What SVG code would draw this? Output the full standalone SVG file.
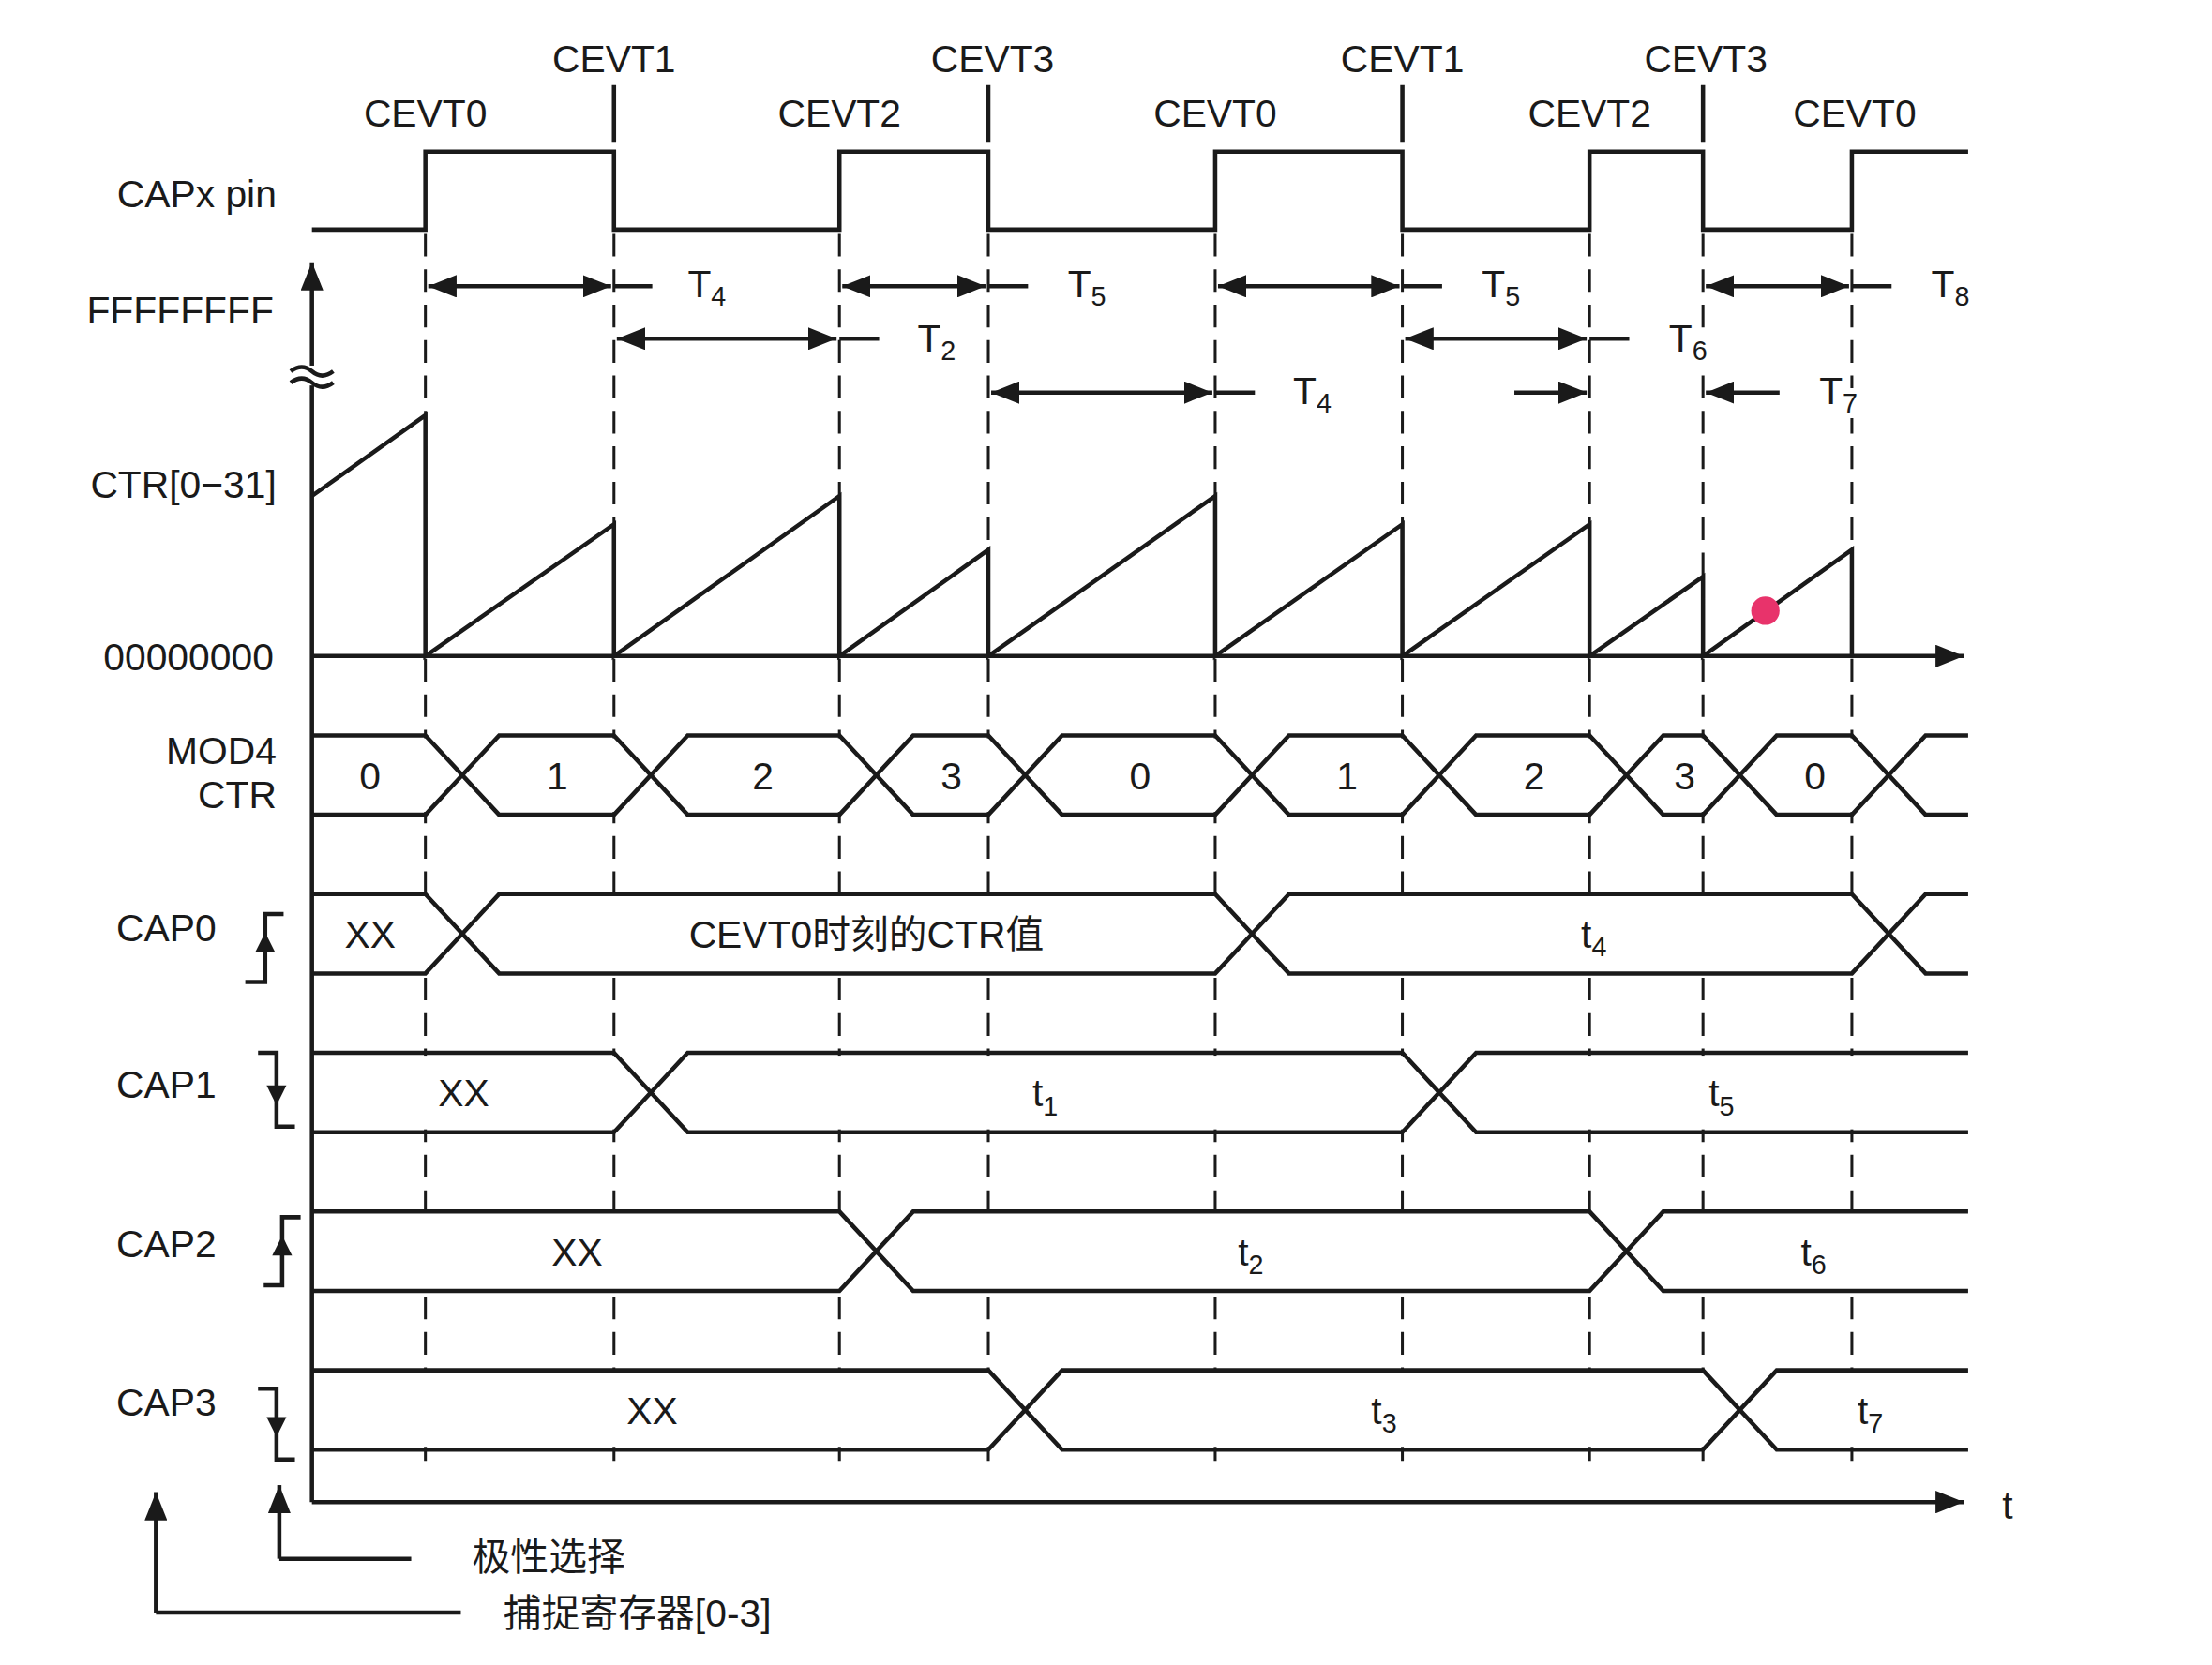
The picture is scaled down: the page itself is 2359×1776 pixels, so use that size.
<svg xmlns="http://www.w3.org/2000/svg" width="2359" height="1776" viewBox="0 0 2359 1776">
<style>
.l{stroke:#1a1a1a;stroke-width:3;fill:none}
.d{stroke:#1a1a1a;stroke-width:2;fill:none;stroke-dasharray:16 9}
.t{font-family:"Liberation Sans","Noto Sans CJK SC",sans-serif;font-size:27px;fill:#1a1a1a}
.w{stroke:#fff;stroke-width:8;paint-order:stroke}
.e{text-anchor:end}.m{text-anchor:middle}
.s{font-size:19px}
</style>
<defs>
<marker id="b" viewBox="0 0 10 10" refX="10" refY="5" markerWidth="20" markerHeight="16" orient="auto-start-reverse" markerUnits="userSpaceOnUse" preserveAspectRatio="none"><path d="M0,0L10,5L0,10z" fill="#1a1a1a"/></marker>
</defs>
<rect width="2359" height="1776" fill="#fff"/>
<g transform="scale(1.5122 1.5115)">
<g id="connectors">
<path class="d" d="M300,165V1040M433,165V1040M592,165V1040M697,165V1040M857,165V1040M989,165V1040M1121,165V1040M1201,165V1040M1306,165V1040"/>
<g fill="#fff"><rect x="222" y="521" width="1166" height="52"/><rect x="222" y="633" width="1166" height="52"/><rect x="222" y="745" width="1166" height="52"/><rect x="222" y="857" width="1166" height="52"/><rect x="222" y="969" width="1166" height="52"/></g>
<path class="l" stroke-width="2" d="M433,60V100M697,60V100M989,60V100M1201,60V100"/>
<path class="l" d="M220,162H300V107H433V162H592V107H697V162H857V107H989V162H1121V107H1201V162H1306V107H1388"/>
<path class="l" d="M220,1060V185" marker-end="url(#b)"/>
<rect x="205" y="258" width="30" height="14" fill="#fff"/>
<path class="l" stroke-width="2" d="M205,262q8,-6 15,0t15,0M205,270q8,-6 15,0t15,0"/>
<path class="l" d="M220,463H1385" marker-end="url(#b)"/>
<path class="l" d="M220,1060H1385" marker-end="url(#b)"/>
<path class="l" d="M220,350L300,293V463L433,370V463L592,350V463L697,388V463L857,350V463L989,370V463L1121,370V463L1201,407V463L1306,388V463"/>
<path class="l" stroke-width="2" d="M302,202H431" marker-start="url(#b)" marker-end="url(#b)"/><path class="l" stroke-width="2" d="M433,202H460"/>
<path class="l" stroke-width="2" d="M594,202H695" marker-start="url(#b)" marker-end="url(#b)"/><path class="l" stroke-width="2" d="M697,202H725"/>
<path class="l" stroke-width="2" d="M859,202H987" marker-start="url(#b)" marker-end="url(#b)"/><path class="l" stroke-width="2" d="M989,202H1017"/>
<path class="l" stroke-width="2" d="M1203,202H1304" marker-start="url(#b)" marker-end="url(#b)"/><path class="l" stroke-width="2" d="M1306,202H1334"/>
<path class="l" stroke-width="2" d="M435,239H590" marker-start="url(#b)" marker-end="url(#b)"/><path class="l" stroke-width="2" d="M592,239H620"/>
<path class="l" stroke-width="2" d="M991,239H1119" marker-start="url(#b)" marker-end="url(#b)"/><path class="l" stroke-width="2" d="M1121,239H1149"/>
<path class="l" stroke-width="2" d="M699,277H855" marker-start="url(#b)" marker-end="url(#b)"/><path class="l" stroke-width="2" d="M857,277H885"/>
<path class="l" stroke-width="2" d="M1068,277H1119" marker-end="url(#b)"/>
<path class="l" stroke-width="2" d="M1255,277H1203" marker-end="url(#b)"/>
<circle cx="1245" cy="431" r="10" fill="#e8336b"/>
<path class="l" d="M220,519H300L352,575H433L485,519H592L644,575H697L749,519H857L909,575H989L1041,519H1121L1173,575H1201L1253,519H1306L1358,575H1388M220,575H300L352,519H433L485,575H592L644,519H697L749,575H857L909,519H989L1041,575H1121L1173,519H1201L1253,575H1306L1358,519H1388"/>
<path class="l" d="M220,631H300L352,687H857L909,631H1306L1358,687H1388M220,687H300L352,631H857L909,687H1306L1358,631H1388"/>
<path class="l" d="M220,743H433L485,799H989L1041,743H1388M220,799H433L485,743H989L1041,799H1388"/>
<path class="l" d="M220,855H592L644,911H1121L1173,855H1388M220,911H592L644,855H1121L1173,911H1388"/>
<path class="l" d="M220,967H697L749,1023H1201L1253,967H1388M220,1023H697L749,967H1201L1253,1023H1388"/>
<path class="l" stroke-width="2" d="M173,693H187V645H200M187,690V668"/><path d="M180,672L187,658L194,672z" fill="#1a1a1a"/>
<path class="l" stroke-width="2" d="M182,743H195V795H208M195,748V770"/><path d="M188,766L195,780L202,766z" fill="#1a1a1a"/>
<path class="l" stroke-width="2" d="M186,907H199V859H212M199,904V882"/><path d="M192,886L199,872L206,886z" fill="#1a1a1a"/>
<path class="l" stroke-width="2" d="M182,980H195V1030H208M195,985V1005"/><path d="M188,1000L195,1014L202,1000z" fill="#1a1a1a"/>
<path class="l" stroke-width="2" d="M197,1100V1048" marker-end="url(#b)"/><path class="l" stroke-width="2" d="M197,1100H290"/>
<path class="l" stroke-width="2" d="M110,1138V1053" marker-end="url(#b)"/><path class="l" stroke-width="2" d="M110,1138H325"/>
</g>
<g id="labels" class="t">
<text x="195" y="146" class="t e">CAPx pin</text>
<text x="193" y="228" class="t e">FFFFFFFF</text>
<text x="195" y="351" class="t e">CTR[0−31]</text>
<text x="193" y="473" class="t e">00000000</text>
<text x="195" y="539" class="t e">MOD4</text>
<text x="195" y="570" class="t e">CTR</text>
<text x="82" y="664" class="t">CAP0</text>
<text x="82" y="775" class="t">CAP1</text>
<text x="82" y="887" class="t">CAP2</text>
<text x="82" y="999" class="t">CAP3</text>
<text x="300" y="89" class="t m">CEVT0</text>
<text x="433" y="51" class="t m">CEVT1</text>
<text x="592" y="89" class="t m">CEVT2</text>
<text x="700" y="51" class="t m">CEVT3</text>
<text x="857" y="89" class="t m">CEVT0</text>
<text x="989" y="51" class="t m">CEVT1</text>
<text x="1121" y="89" class="t m">CEVT2</text>
<text x="1203" y="51" class="t m">CEVT3</text>
<text x="1308" y="89" class="t m">CEVT0</text>
<g class="w">
<text x="485" y="210" class="t w">T<tspan class="s" dy="6">4</tspan></text>
<text x="753" y="210" class="t w">T<tspan class="s" dy="6">5</tspan></text>
<text x="1045" y="210" class="t w">T<tspan class="s" dy="6">5</tspan></text>
<text x="1362" y="210" class="t w">T<tspan class="s" dy="6">8</tspan></text>
<text x="647" y="248" class="t w">T<tspan class="s" dy="6">2</tspan></text>
<text x="1177" y="248" class="t w">T<tspan class="s" dy="6">6</tspan></text>
<text x="912" y="285" class="t w">T<tspan class="s" dy="6">4</tspan></text>
<text x="1283" y="285" class="t w">T<tspan class="s" dy="6">7</tspan></text>
</g>
<text x="261" y="557" class="t m">0</text><text x="393" y="557" class="t m">1</text><text x="538" y="557" class="t m">2</text><text x="671" y="557" class="t m">3</text><text x="804" y="557" class="t m">0</text><text x="950" y="557" class="t m">1</text><text x="1082" y="557" class="t m">2</text><text x="1188" y="557" class="t m">3</text><text x="1280" y="557" class="t m">0</text>
<text x="261" y="669" class="t m">XX</text>
<text x="611" y="669" class="t m">CEVT0时刻的CTR值</text>
<text x="1115" y="669" class="t">t<tspan class="s" dy="6">4</tspan></text>
<text x="327" y="781" class="t m">XX</text>
<text x="728" y="781" class="t">t<tspan class="s" dy="6">1</tspan></text>
<text x="1205" y="781" class="t">t<tspan class="s" dy="6">5</tspan></text>
<text x="407" y="893" class="t m">XX</text>
<text x="873" y="893" class="t">t<tspan class="s" dy="6">2</tspan></text>
<text x="1270" y="893" class="t">t<tspan class="s" dy="6">6</tspan></text>
<text x="460" y="1005" class="t m">XX</text>
<text x="967" y="1005" class="t">t<tspan class="s" dy="6">3</tspan></text>
<text x="1310" y="1005" class="t">t<tspan class="s" dy="6">7</tspan></text>
<text x="1412" y="1072" class="t">t</text>
<text x="333" y="1108" class="t">极性选择</text>
<text x="355" y="1148" class="t">捕捉寄存器[0-3]</text>
</g>
</g>
</svg>
